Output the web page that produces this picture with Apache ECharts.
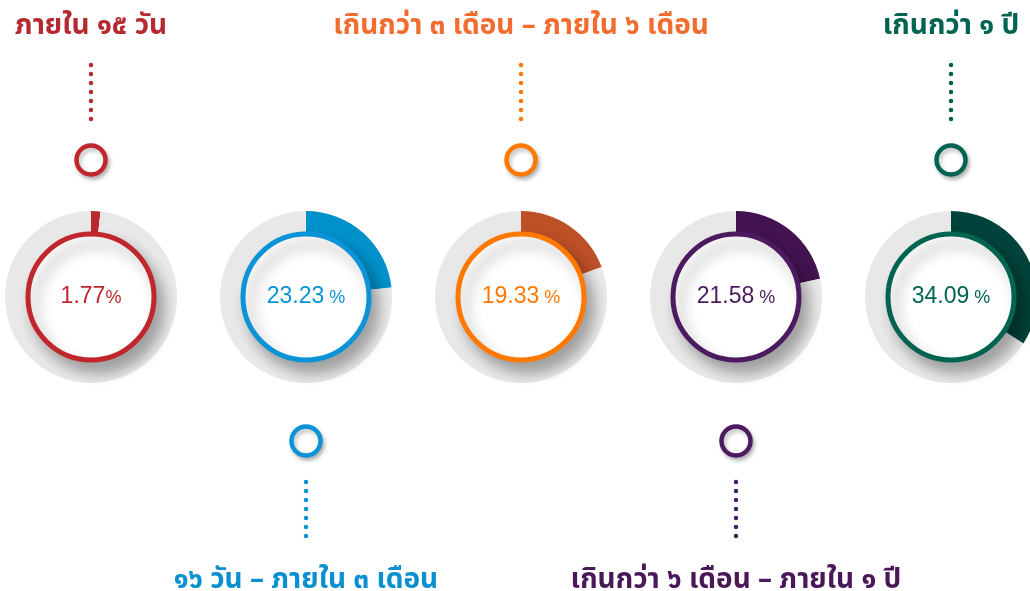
<!DOCTYPE html>
<html>
<head>
<meta charset="utf-8">
<script src="https://cdn.jsdelivr.net/npm/echarts@6/dist/echarts.min.js"></script>
<style>
    html, body { margin: 0; padding: 0; background: #fff; }
    #main { width: 1030px; height: 591px; }
</style>
</head>
<body>
<div id="main"></div>
<script>
// ช่วงอายุ และ สัดส่วน (%)
var categories = [
    'ภายใน ๑๕ วัน',
    '๑๖ วัน – ภายใน ๓ เดือน',
    'เกินกว่า ๓ เดือน – ภายใน ๖ เดือน',
    'เกินกว่า ๖ เดือน – ภายใน ๑ ปี',
    'เกินกว่า ๑ ปี'
];
var percents = [1.77, 23.23, 19.33, 21.58, 34.09];
var labelSide = ['top', 'bottom', 'top', 'bottom', 'top'];

// สี
var ringColors = ['#c0272d', '#0a93d6', '#ff7800', '#4c1a5f', '#006450'];
var arcColors = ['#b8282e', '#0091cb', '#bd5027', '#431450', '#00433a'];
var textColors = ['#b52a30', '#0a8fd0', '#f26b2f', '#4a1858', '#006450'];

var centersX = [91, 306, 521, 736, 951];
var centerY = 297;

var chart = echarts.init(document.getElementById('main'));

var series = [];
var graphics = [];

percents.forEach(function(v, i) {
    var cx = centersX[i];
    // วงแหวน + ส่วนที่เป็นเปอร์เซ็นต์
    series.push({
        type: 'pie',
        silent: true,
        center: [cx, centerY],
        radius: [60, 86],
        startAngle: 90,
        clockwise: true,
        label: { show: false },
        labelLine: { show: false },
        itemStyle: { borderWidth: 0 },
        data: [
            { value: v, itemStyle: { color: arcColors[i] } },
            { value: 100 - v, itemStyle: { color: '#e8e8e9' } }
        ]
    });
    // วงกลมขาวตรงกลาง
    series.push({
        type: 'pie',
        silent: true,
        center: [cx, centerY],
        radius: [0, 63],
        label: {
            show: true,
            position: 'center',
            formatter: function() {
                return '{n|' + v.toFixed(2) + '}{p|' + (i ? ' ' : '') + '%}';
            },
            rich: {
                n: { fontSize: 23, color: ringColors[i], fontFamily: 'Liberation Sans, Arial, sans-serif' },
                p: { fontSize: 18, color: ringColors[i], fontFamily: 'Liberation Sans, Arial, sans-serif', padding: [3, 0, 0, 0] }
            }
        },
        labelLine: { show: false },
        itemStyle: {
            color: '#fff',
            borderColor: ringColors[i],
            borderWidth: 5,
            shadowBlur: 14,
            shadowOffsetX: 7,
            shadowOffsetY: 10,
            shadowColor: 'rgba(0,0,0,0.3)'
        },
        data: [{ value: 1 }]
    });

    var top = labelSide[i] === 'top';
    var ringY = top ? 160 : 441;
    var dotY1 = top ? 65 : 482;
    var dotY2 = top ? 119 : 536;
    var textY = top ? 28 : 582;

    graphics.push({
        type: 'line',
        silent: true,
        shape: { x1: cx, y1: dotY1, x2: cx, y2: dotY2 },
        style: { stroke: ringColors[i], lineWidth: 4.5, lineCap: 'round', lineDash: [0.1, 8.9] }
    });
    graphics.push({
        type: 'circle',
        silent: true,
        shape: { cx: cx, cy: ringY, r: 14.5 },
        style: {
            fill: '#fff',
            stroke: ringColors[i],
            lineWidth: 4.5,
            shadowBlur: 4,
            shadowOffsetX: 2,
            shadowOffsetY: 3,
            shadowColor: 'rgba(0,0,0,0.25)'
        }
    });
    graphics.push({
        type: 'text',
        silent: true,
        x: cx,
        y: textY,
        style: {
            text: categories[i],
            fill: textColors[i],
            font: 'bold 28px "Noto Sans Thai", "Noto Sans", sans-serif',
            textAlign: 'center',
            textVerticalAlign: 'middle'
        }
    });
});

chart.setOption({
    animation: false,
    backgroundColor: '#fff',
    series: series,
    graphic: graphics
});
</script>
</body>
</html>
